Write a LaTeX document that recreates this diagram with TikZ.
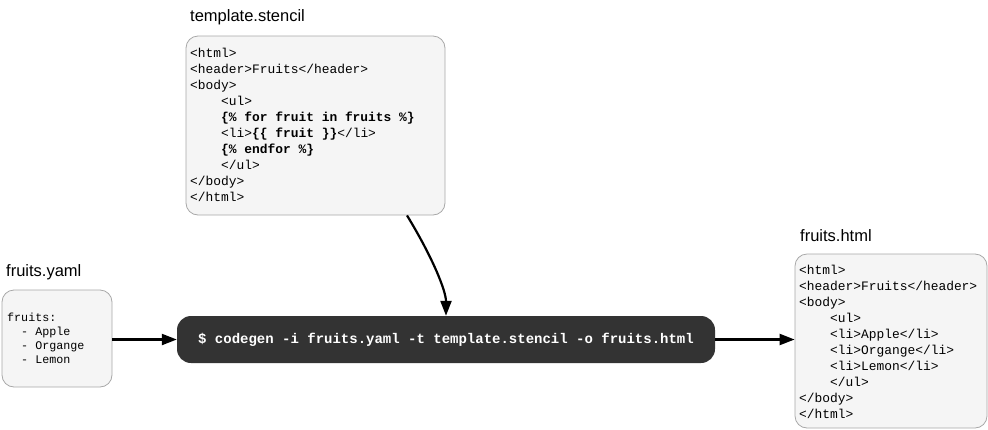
\documentclass[tikz,border=0pt]{standalone}
\usepackage{fontspec}
\usetikzlibrary{arrows.meta}
\newfontfamily\codefont{Liberation Mono}
\newfontfamily\titlefont{Liberation Sans}
\definecolor{boxfill}{HTML}{F5F5F5}
\definecolor{boxline}{HTML}{A8A8A8}
\definecolor{cmdfill}{HTML}{333333}
\newcommand\cl[1]{\hbox{#1}}
\newcommand\ind{\hphantom{xxxx}}
\tikzset{
  box/.style={draw=boxline, fill=boxfill, rounded corners=12pt, line width=0.8pt, inner sep=0pt},
  cmdbox/.style={fill=cmdfill, rounded corners=14pt, inner sep=0pt, text=white,
    font=\codefont\bfseries\fontsize{14}{16}\selectfont},
  codetext/.style={anchor=base west, inner sep=0pt, font=\codefont\fontsize{12.9}{16}\selectfont},
  yamltext/.style={anchor=base west, inner sep=0pt, font=\codefont\fontsize{11.7}{14}\selectfont},
  title/.style={anchor=base west, inner sep=0pt, font=\titlefont\fontsize{16.5}{20}\selectfont},
  conn/.style={line width=2.2pt, -{Triangle[length=15pt,width=11pt]}}
}
\begin{document}
\begin{tikzpicture}[x=1pt,y=-1pt]
\useasboundingbox (0,0) rectangle (988,429);

% boxes
\node[box, minimum width=259pt, minimum height=179pt] (tmpl) at (315.5,125.5) {};
\node[box, minimum width=110pt, minimum height=97pt] (yaml) at (57,338.5) {};
\node[box, minimum width=192pt, minimum height=174pt] (out) at (891,341) {};
\node[cmdbox, minimum width=538pt, minimum height=47pt] (cmd) at (446,339.5)
  {\$ codegen -i fruits.yaml -t template.stencil -o fruits.html};

% titles
\node[title] (tmpltitle) at (190,21.7) {template.stencil};
\node[title] (yamltitle) at (6,276) {fruits.yaml};
\node[title] (outtitle) at (800,241) {fruits.html};

% template text
\node[codetext] (tmpltext) at (190,57) {\vtop{\baselineskip=16pt\lineskiplimit=-20pt
  \cl{<html>}
  \cl{<header>Fruits</header>}
  \cl{<body>}
  \cl{\ind<ul>}
  \cl{\ind\textbf{\{\% for fruit in fruits \%\}}}
  \cl{\ind<li>\textbf{\{\{ fruit \}\}}</li>}
  \cl{\ind\textbf{\{\% endfor \%\}}}
  \cl{\ind</ul>}
  \cl{</body>}
  \cl{</html>}}};

% yaml text
\node[yamltext] (yamltxt) at (7,321) {\vtop{\baselineskip=14pt\lineskiplimit=-20pt
  \cl{fruits:}
  \cl{\hphantom{xx}- Apple}
  \cl{\hphantom{xx}- Organge}
  \cl{\hphantom{xx}- Lemon}}};

% output text
\node[codetext] (outtxt) at (799,274) {\vtop{\baselineskip=16pt\lineskiplimit=-20pt
  \cl{<html>}
  \cl{<header>Fruits</header>}
  \cl{<body>}
  \cl{\ind<ul>}
  \cl{\ind<li>Apple</li>}
  \cl{\ind<li>Organge</li>}
  \cl{\ind<li>Lemon</li>}
  \cl{\ind</ul>}
  \cl{</body>}
  \cl{</html>}}};

% connectors
\draw[conn] (yaml.east |- cmd.west) -- (cmd.west);
\draw[conn] ([xshift=91.5pt]tmpl.south) .. controls +(26,42.7) and +(0,-24.7) .. (cmd.north);
\draw[conn] (cmd.east) -- (out.west |- cmd.east);
\end{tikzpicture}
\end{document}
